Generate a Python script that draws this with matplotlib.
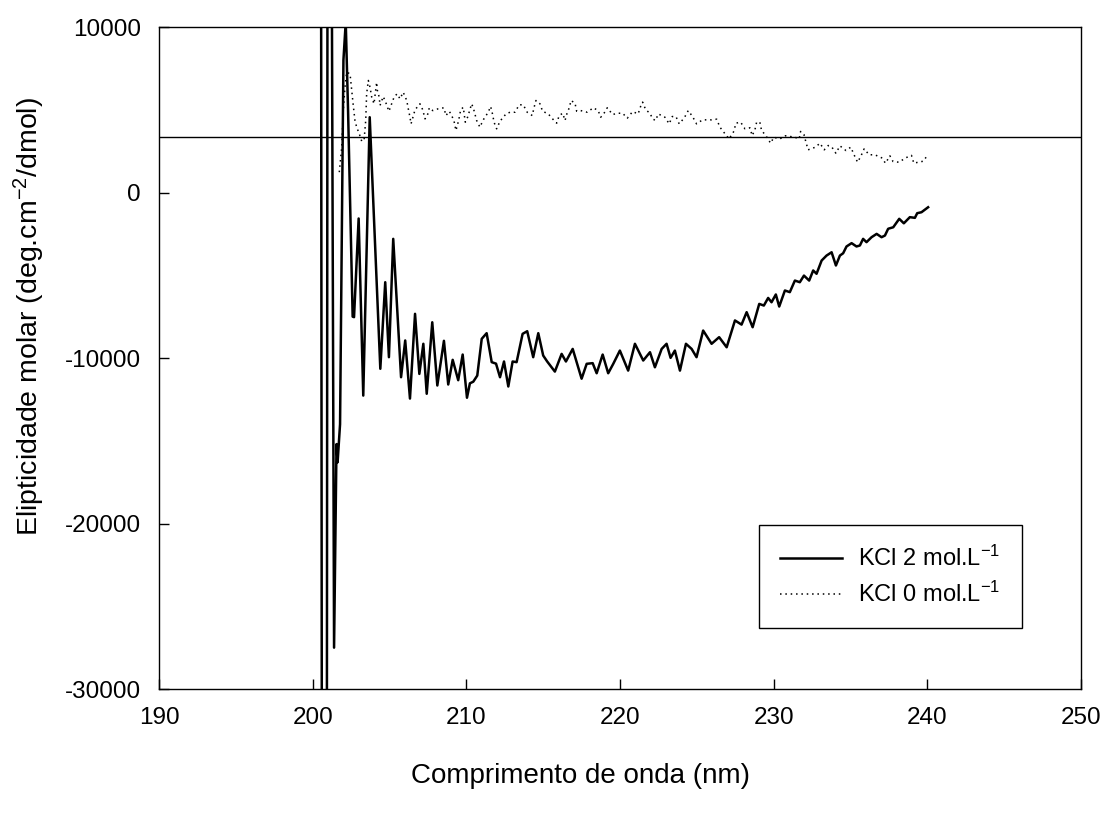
import matplotlib
matplotlib.use("Agg")
import matplotlib.pyplot as plt
import numpy as np

plt.rcParams['font.family'] = ['Liberation Sans', 'DejaVu Sans']
plt.rcParams['mathtext.fontset'] = 'custom'
plt.rcParams['mathtext.rm'] = 'Liberation Sans'
plt.rcParams['mathtext.default'] = 'regular'
plt.rcParams['axes.unicode_minus'] = False

# KCl 2 mol/L (solid line)
wl_kcl2 = [200.50, 200.62, 200.90, 201.00, 201.20, 201.39, 201.55, 201.62, 201.78,
           202.00, 202.15, 202.30, 202.60, 202.69, 202.99, 203.29, 203.71, 204.40,
           204.72, 204.96, 205.24, 205.75, 206.02, 206.33, 206.66, 206.94, 207.20,
           207.42, 207.78, 208.11, 208.54, 208.82, 209.11, 209.47, 209.76, 210.04,
           210.23, 210.45, 210.71, 211.00, 211.32, 211.65, 211.93, 212.19, 212.45,
           212.73, 213.01, 213.27, 213.66, 213.96, 214.35, 214.68, 215.00, 215.26,
           215.76, 216.20, 216.48, 216.92, 217.50, 217.83, 218.22, 218.48, 218.87,
           219.23, 219.56, 219.99, 220.53, 220.97, 221.51, 221.95, 222.27, 222.71,
           223.03, 223.29, 223.57, 223.90, 224.29, 224.66, 224.98, 225.41, 225.96,
           226.45, 226.94, 227.48, 227.91, 228.24, 228.63, 229.06, 229.36, 229.64,
           229.86, 230.14, 230.36, 230.73, 231.05, 231.38, 231.70, 231.97, 232.31,
           232.57, 232.79, 233.12, 233.44, 233.77, 234.05, 234.31, 234.52, 234.74,
           235.07, 235.39, 235.61, 235.82, 236.04, 236.37, 236.70, 237.02, 237.24,
           237.45, 237.78, 238.17, 238.47, 238.86, 239.19, 239.34, 239.62, 240.05]
el_kcl2 = [60000, -60000, -60000, 60000, 25000, -27500, -15200, -16300, -14000,
           8000, 10300, 5000, -7500, -7530, -1570, -12270, 4550, -10650,
           -5420, -9950, -2800, -11160, -8940, -12450, -7330, -10960, -9140,
           -12160, -7840, -11660, -8960, -11600, -10110, -11340, -9790, -12400,
           -11530, -11430, -11060, -8840, -8500, -10250, -10340, -11160, -10210,
           -11720, -10210, -10250, -8540, -8380, -9950, -8500, -9850, -10210,
           -10820, -9750, -10210, -9450, -11250, -10350, -10310, -10920, -9790,
           -10920, -10350, -9550, -10760, -9140, -10150, -9650, -10560, -9450,
           -9140, -9990, -9550, -10760, -9140, -9450, -9950, -8340, -9140,
           -8740, -9350, -7730, -7980, -7230, -8140, -6730, -6830, -6370,
           -6630, -6160, -6890, -5920, -6020, -5320, -5420, -5020, -5320,
           -4710, -4910, -4110, -3810, -3610, -4410, -3810, -3670, -3260,
           -3060, -3260, -3200, -2800, -3000, -2700, -2500, -2700, -2600,
           -2190, -2100, -1590, -1860, -1490, -1530, -1250, -1190, -890]

# KCl 0 mol/L (dotted line)
wl_kcl0 = [201.73, 201.89, 201.99, 202.10, 202.21, 202.43, 202.54, 202.64, 202.75,
           202.86, 203.03, 203.19, 203.34, 203.45, 203.51, 203.62, 203.73, 203.84,
           203.99, 204.16, 204.20, 204.33, 204.38, 204.59, 204.77, 204.96, 205.14,
           205.31, 205.50, 205.68, 205.89, 206.12, 206.22, 206.33, 206.40, 206.51,
           206.66, 206.98, 207.16, 207.31, 207.46, 207.59, 207.81, 208.17, 208.54,
           208.67, 208.89, 209.04, 209.19, 209.32, 209.43, 209.54, 209.63, 209.80,
           209.93, 210.08, 210.23, 210.34, 210.45, 210.67, 210.88, 211.10, 211.42,
           211.58, 211.71, 211.80, 211.97, 212.19, 212.58, 212.84, 213.16, 213.44,
           213.70, 213.96, 214.29, 214.40, 214.53, 214.79, 214.96, 215.33, 215.61,
           215.88, 216.04, 216.27, 216.42, 216.57, 216.70, 216.81, 217.07, 217.18,
           217.44, 217.87, 218.26, 218.58, 218.74, 218.91, 219.17, 219.52, 219.82,
           220.17, 220.47, 220.82, 221.18, 221.34, 221.47, 221.67, 221.95, 222.12,
           222.31, 222.49, 222.92, 223.20, 223.40, 223.64, 223.85, 224.18, 224.44,
           224.72, 224.98, 225.37, 225.67, 225.96, 226.29, 226.50, 226.83, 227.10,
           227.41, 227.54, 227.85, 228.13, 228.45, 228.60, 228.78, 228.89, 229.10,
           229.21, 229.49, 229.80, 230.01, 230.40, 230.77, 231.10, 231.38, 231.66,
           231.75, 231.97, 232.10, 232.24, 232.72, 233.01, 233.29, 233.55, 233.79,
           234.05, 234.31, 234.70, 235.02, 235.22, 235.46, 235.67, 235.89, 236.21,
           236.58, 237.02, 237.28, 237.56, 237.77, 238.15, 238.60, 238.97, 239.12,
           239.40, 239.73, 240.05]
el_kcl0 = [1230, 2740, 4950, 6360, 7270, 7170, 6160, 5260, 4350,
           3950, 3550, 3100, 3140, 4350, 5960, 6770, 6360, 5760,
           5360, 6660, 6200, 5760, 5260, 5800, 5400, 4910, 5360,
           5800, 5960, 5660, 6060, 5560, 5060, 4550, 4150, 4510,
           5000, 5360, 5000, 4450, 4650, 5120, 4950, 5060, 5120,
           4650, 4910, 4650, 4350, 3750, 4110, 4550, 5000, 5150,
           4250, 4550, 5000, 5360, 5120, 4350, 3950, 4390, 4850,
           5200, 4710, 4250, 3850, 4310, 4750, 4850, 4850, 5300,
           5300, 4850, 4650, 5120, 5560, 5360, 4910, 4750, 4450,
           4190, 4650, 4790, 4350, 4850, 5120, 5560, 5400, 4910,
           4950, 4850, 5120, 4950, 4550, 4710, 5120, 4710, 4790,
           4790, 4490, 4890, 4750, 5200, 5460, 5000, 4790, 4450,
           4350, 4750, 4550, 4150, 4590, 4590, 4150, 4510, 4950,
           4590, 4150, 4390, 4390, 4390, 4430, 3950, 3550, 3240,
           3700, 4190, 4250, 3850, 3910, 3440, 3790, 4250, 4250,
           3750, 3440, 2980, 3340, 3240, 3430, 3380, 3340, 3240,
           3690, 3500, 3040, 2580, 2740, 2980, 2580, 2840, 2740,
           2370, 2820, 2540, 2740, 2300, 1830, 2190, 2640, 2280,
           2280, 2100, 1770, 2220, 1870, 1830, 2100, 2240, 1770,
           1830, 1890, 2300]

ref_level = 3330

fig = plt.figure(figsize=(11.06, 8.16), dpi=100)
ax = fig.add_axes([0.1438, 0.1556, 0.8336, 0.8113])

ax.plot(wl_kcl2, el_kcl2, color='black', linewidth=1.8, solid_joinstyle='round',
        label='KCl 2 mol.L$^{-1}$')
ax.plot(wl_kcl0, el_kcl0, color='black', linewidth=1.1, linestyle=(0, (1, 2.5)),
        label='KCl 0 mol.L$^{-1}$')
ax.axhline(ref_level, color='black', linewidth=1.0)

ax.set_xlim(190, 250)
ax.set_ylim(-30000, 10000)
ax.set_xticks([190, 200, 210, 220, 230, 240, 250])
ax.set_yticks([-30000, -20000, -10000, 0, 10000])

ax.tick_params(direction='in', length=7, width=1, labelsize=17.5, pad=13,
               top=False, right=False)
for s in ax.spines.values():
    s.set_linewidth(1.0)

ax.set_xlabel('Comprimento de onda (nm)', fontsize=20)
ax.xaxis.set_label_coords(0.457, -0.112)
ax.set_ylabel('Elipticidade molar (deg.cm$^{-2}$/dmol)', fontsize=20.5)
ax.yaxis.set_label_coords(-0.121, 0.562)

leg = ax.legend(loc='lower right', bbox_to_anchor=(0.936, 0.092), borderaxespad=0,
                fontsize=17, fancybox=False, edgecolor='black', framealpha=1,
                handlelength=2.6, borderpad=0.9, labelspacing=0.45, handletextpad=0.7)
leg.get_frame().set_linewidth(1.0)

fig.savefig('out.png', dpi=100)
